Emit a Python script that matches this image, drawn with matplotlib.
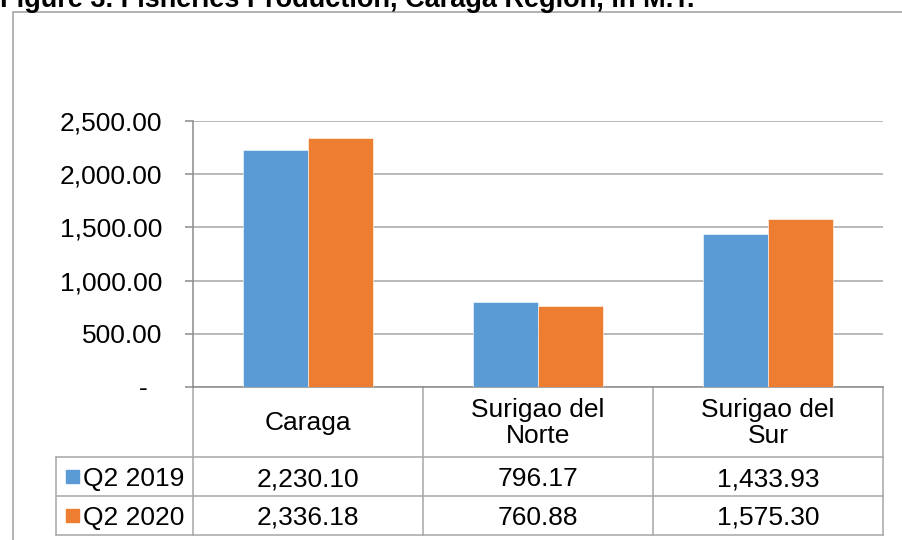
import matplotlib

matplotlib.use("Agg")

import matplotlib.pyplot as plt  # noqa: E402
import numpy as np  # noqa: E402
from matplotlib.lines import Line2D  # noqa: E402
from matplotlib.patches import Rectangle  # noqa: E402

plt.rcParams["font.family"] = ["Liberation Sans", "DejaVu Sans"]

# données
title = "Figure 3. Fisheries Production, Caraga Region, in M.T."
categories = ["Caraga", "Surigao del\nNorte", "Surigao del\nSur"]
series = ["Q2 2019", "Q2 2020"]
q2_2019 = [2230.10, 796.17, 1433.93]
q2_2020 = [2336.18, 760.88, 1575.30]
colors = ["#5B9BD5", "#ED7D31"]
yticks = [0, 500, 1000, 1500, 2000, 2500]

W, H = 903, 540
GRAY = "#a6a6a6"
FS = 19

# géométrie (pixels)
ax_l, ax_r, ax_t, ax_b = 193, 883, 121, 387
row_lines = [457, 496, 535]
leg_l = 56


def fx(px):
    return (px - ax_l) / (ax_r - ax_l)


def fy(py):
    return (ax_b - py) / (ax_b - ax_t)


fig = plt.figure(figsize=(W / 100, H / 100), dpi=100)
ax = fig.add_axes([ax_l / W, 1 - ax_b / H, (ax_r - ax_l) / W, (ax_b - ax_t) / H])

x = np.arange(len(categories))
w = 0.283
for i, (vals, c) in enumerate(zip([q2_2019, q2_2020], colors)):
    ax.bar(x + (i - 0.5) * w, vals, w, color=c, edgecolor="white", linewidth=0.4, zorder=3)

ax.set_xlim(-0.5, len(categories) - 0.5)
ax.set_ylim(0, 2500)
ax.set_yticks(yticks)
ax.set_yticklabels(["-  " if v == 0 else f"{v:,.2f}" for v in yticks])
ax.set_xticks([])
ax.yaxis.grid(True, color=GRAY, linewidth=1.1, zorder=0)
ax.set_axisbelow(True)
for s in ["top", "right"]:
    ax.spines[s].set_visible(False)
for s in ["left", "bottom"]:
    ax.spines[s].set_color("#8c8c8c")
    ax.spines[s].set_linewidth(1.1)
ax.tick_params(axis="y", direction="out", length=5.8, width=1.1, color="#8c8c8c",
               pad=16.5, labelsize=FS)

# table de données sous le graphique
def hline(py, x0, x1):
    ax.add_line(Line2D([fx(x0), fx(x1)], [fy(py), fy(py)], transform=ax.transAxes,
                       color=GRAY, lw=1.1, clip_on=False))


def vline(px, y0, y1):
    ax.add_line(Line2D([fx(px), fx(px)], [fy(y0), fy(y1)], transform=ax.transAxes,
                       color=GRAY, lw=1.1, clip_on=False))


for py in row_lines:
    hline(py, leg_l, ax_r)
vline(leg_l, row_lines[0], row_lines[-1])
col_edges = np.linspace(ax_l, ax_r, len(categories) + 1)
for px in col_edges:
    vline(px, ax_b, row_lines[-1])

for j, cat in enumerate(categories):
    ax.text(j, fy((ax_b + row_lines[0]) / 2 + 1), cat, transform=ax.get_xaxis_transform(),
            ha="center", va="center", fontsize=FS, linespacing=1.15)

for r, (name, vals, c) in enumerate(zip(series, [q2_2019, q2_2020], colors)):
    yc = (row_lines[r] + row_lines[r + 1]) / 2
    ax.add_patch(Rectangle((fx(66), fy(yc + 6.5)), fx(79) - fx(66), fy(yc - 6.5) - fy(yc + 6.5),
                           transform=ax.transAxes, color=c, clip_on=False))
    ax.text(fx(83), fy(yc), name, transform=ax.transAxes, ha="left",
            va="center_baseline", fontsize=FS)
    for j, v in enumerate(vals):
        ax.text(j, fy(yc), f"{v:,.2f}", transform=ax.get_xaxis_transform(),
                ha="center", va="center_baseline", fontsize=FS)

# cadre du graphique et titre
fig.add_artist(Rectangle((13 / W, -0.1), 1.0, 1 - 12 / H + 0.1, transform=fig.transFigure,
                         fill=False, edgecolor=GRAY, linewidth=1.2))
fig.text(0.0, 1 - 7 / H, title, fontsize=19.5, fontweight="bold", va="baseline", ha="left")

fig.savefig("out.png", dpi=100)
plt.close(fig)
